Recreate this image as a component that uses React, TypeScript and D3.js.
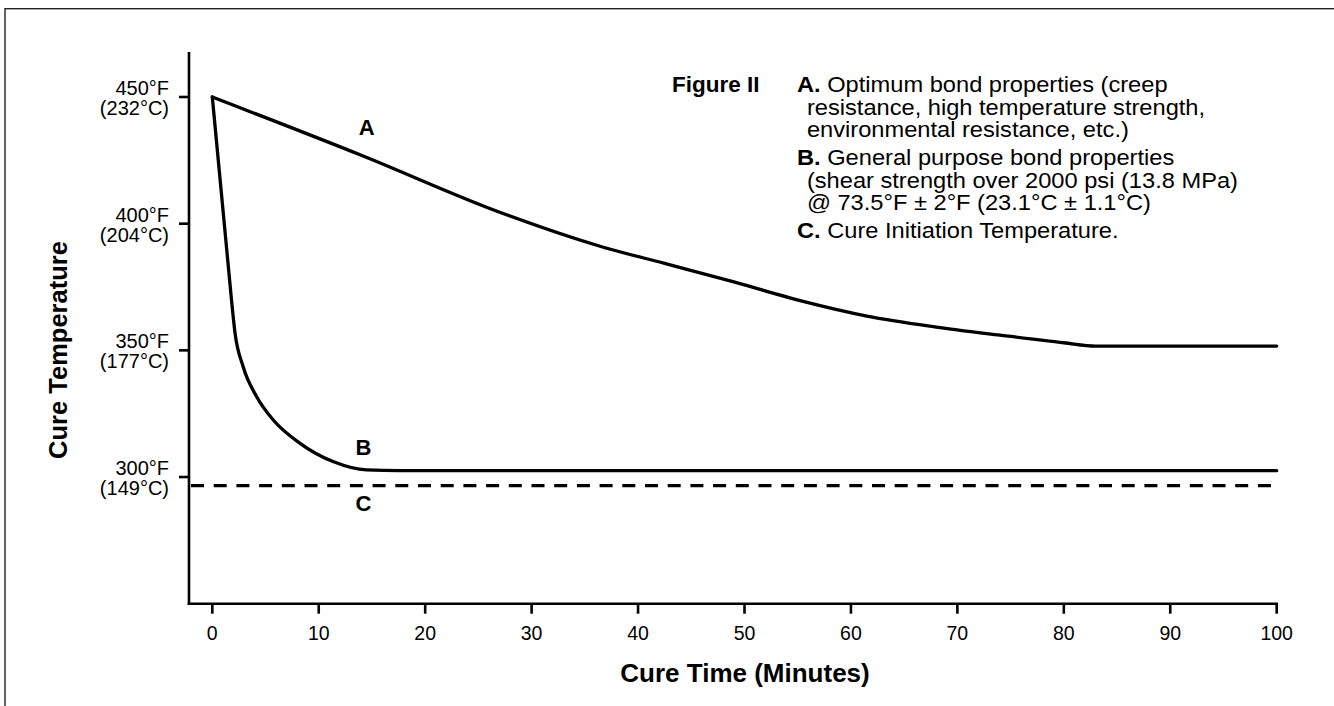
import React from "react";
import * as d3 from "d3";

// ---- data ----
const xTicks = [0, 10, 20, 30, 40, 50, 60, 70, 80, 90, 100];
const yTicksF = [300, 350, 400, 450];
const yTickLabelsF = ["300°F", "350°F", "400°F", "450°F"];
const yTickLabelsC = ["(149°C)", "(177°C)", "(204°C)", "(232°C)"];

const curveATime = [0, 14, 27, 36.5, 42.5, 49, 55.5, 61.5, 68, 74, 80, 83, 100];
const curveATemp = [450, 427, 404.5, 391, 384.3, 377, 369.3, 363.5, 359.2, 356, 353, 351.7, 351.7];

const curveBTime = [0, 1.8, 2.13, 2.9, 4.17, 5.73, 8.24, 11.4, 14.5, 17.6, 100];
const curveBTemp = [450, 370, 357, 343.5, 331.7, 322.5, 313.3, 306, 302.8, 302.5, 302.5];

const cureInitiationTemp = 296.6;

const curveLabels = ["A", "B", "C"];
const curveLabelTime = [14.5, 14.2, 14.2];
const curveLabelTemp = [435, 308.7, 286.6];

const figureTitle = "Figure II";
const legendPrefix = ["A.", "", "", "B.", "", "", "C."];
const legendText = [
  " Optimum bond properties (creep",
  "resistance, high temperature strength,",
  "environmental resistance, etc.)",
  " General purpose bond properties",
  "(shear strength over 2000 psi (13.8 MPa)",
  "@ 73.5°F ± 2°F (23.1°C ± 1.1°C)",
  " Cure Initiation Temperature.",
];

const xTitle = "Cure Time (Minutes)";
const yTitle = "Cure Temperature";

// ---- layout ----
const W = 1334;
const H = 706;
const FONT = "'Liberation Sans', Arial, Helvetica, sans-serif";

export default function App() {
  const x = d3.scaleLinear().domain([0, 100]).range([212.3, 1276.7]);
  const y = d3.scaleLinear().domain([250, 450]).range([603.7, 97]);
  const yAxisX = 189;
  const yAxisTop = y(467.8);
  const xAxisY = y(250);

  const line = d3
    .line<[number, number]>()
    .x((d) => x(d[0]))
    .y((d) => y(d[1]))
    .curve(d3.curveMonotoneX);

  const aPts = curveATime.map((t, i) => [t, curveATemp[i]] as [number, number]);
  const bPts = curveBTime.map((t, i) => [t, curveBTemp[i]] as [number, number]);

  // legend baselines
  const legendX = 797;
  const legendIndent = 9;
  const legendTop = 92;
  const lineH = 22.7;
  const itemGap = 5;
  const legendStretch = 1.1;
  let yy = legendTop;
  const legendY: number[] = legendPrefix.map((p, i) => {
    if (i > 0) yy += lineH + (p ? itemGap : 0);
    return yy;
  });

  return (
    <svg
      width={W}
      height={H}
      style={{ position: "absolute", left: 0, top: 0, background: "#fff" }}
      fontFamily={FONT}
    >
      <rect x={0} y={0} width={W} height={H} fill="#fff" />
      <rect x={5} y={8.7} width={W + 20} height={H + 20} fill="none" stroke="#222" strokeWidth={1.4} />

      {/* axes */}
      <line x1={yAxisX} x2={yAxisX} y1={yAxisTop} y2={xAxisY + 1.2} stroke="#000" strokeWidth={2.6} />
      <line x1={yAxisX - 1.3} x2={x(100) + 1.3} y1={xAxisY} y2={xAxisY} stroke="#000" strokeWidth={2.6} />

      {yTicksF.map((v, i) => (
        <g key={v}>
          <line x1={yAxisX - 10} x2={yAxisX} y1={y(v)} y2={y(v)} stroke="#000" strokeWidth={2.6} />
          <text x={169} y={y(v) - 2} fontSize={20} textAnchor="end" fill="#000">
            {yTickLabelsF[i]}
          </text>
          <text x={169} y={y(v) + 18} fontSize={20} textAnchor="end" fill="#000">
            {yTickLabelsC[i]}
          </text>
        </g>
      ))}

      {xTicks.map((v) => (
        <g key={v}>
          <line x1={x(v)} x2={x(v)} y1={xAxisY} y2={xAxisY + 10} stroke="#000" strokeWidth={2.6} />
          <text x={x(v)} y={640} fontSize={19.5} textAnchor="middle" fill="#000">
            {v}
          </text>
        </g>
      ))}

      {/* titles */}
      <text x={745} y={682} fontSize={26} fontWeight="bold" textAnchor="middle" fill="#000">
        {xTitle}
      </text>
      <text
        x={67}
        y={350}
        fontSize={25.5}
        fontWeight="bold"
        textAnchor="middle"
        fill="#000"
        transform={`rotate(-90, 67, 350)`}
      >
        {yTitle}
      </text>

      {/* curves */}
      <line
        x1={yAxisX + 2}
        x2={x(100)}
        y1={y(cureInitiationTemp)}
        y2={y(cureInitiationTemp)}
        stroke="#000"
        strokeWidth={3.2}
        strokeDasharray="13 9.7"
      />
      <path d={line(bPts) || ""} fill="none" stroke="#000" strokeWidth={3.3} strokeLinecap="round" strokeLinejoin="round" />
      <path d={line(aPts) || ""} fill="none" stroke="#000" strokeWidth={3.3} strokeLinecap="round" strokeLinejoin="round" />

      {curveLabels.map((l, i) => (
        <text
          key={l}
          x={x(curveLabelTime[i])}
          y={y(curveLabelTemp[i])}
          fontSize={22}
          fontWeight="bold"
          textAnchor="middle"
          fill="#000"
        >
          {l}
        </text>
      ))}

      {/* legend */}
      <text x={672} y={legendTop} fontSize={22.5} fontWeight="bold" fill="#000">
        {figureTitle}
      </text>
      <g transform={`translate(${legendX},0) scale(${legendStretch},1) translate(${-legendX},0)`}>
        {legendText.map((t, i) => (
          <text
            key={i}
            x={legendPrefix[i] ? legendX : legendX + legendIndent}
            y={legendY[i]}
            fontSize={21.5}
            fill="#000"
          >
            {legendPrefix[i] ? <tspan fontWeight="bold">{legendPrefix[i]}</tspan> : null}
            {t}
          </text>
        ))}
      </g>
    </svg>
  );
}
